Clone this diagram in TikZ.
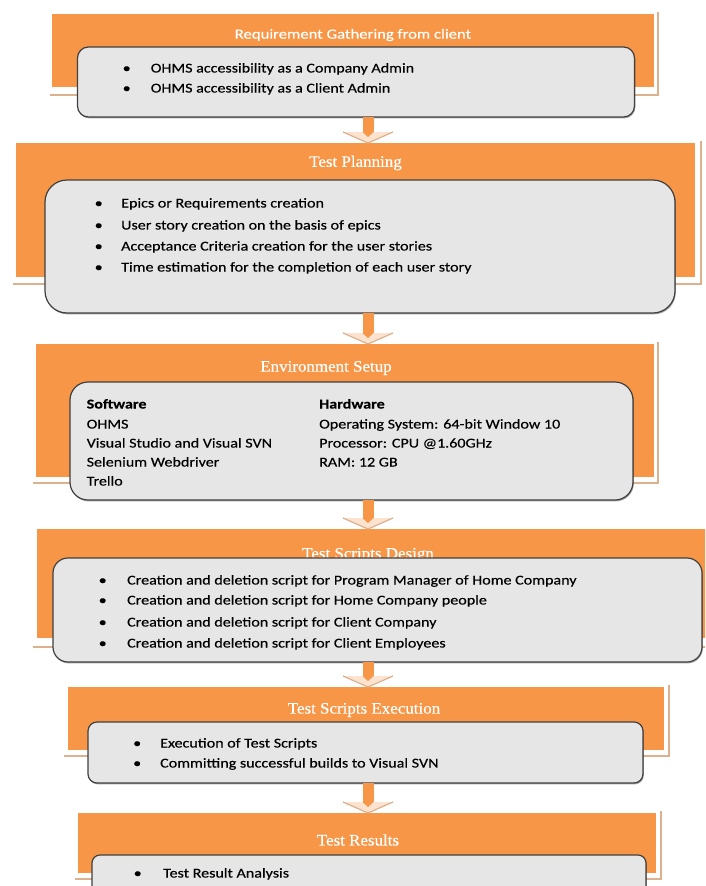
\documentclass[tikz,border=0pt]{standalone}
\usepackage{fontspec}
\setmainfont{Carlito}[FakeStretch=1.19,FakeBold=0.35]
\newfontfamily\titleserif{Liberation Serif}[FakeStretch=1.06,FakeBold=0.5]
\usetikzlibrary{fit,calc,shadows}
\definecolor{obox}{HTML}{F79646}
\definecolor{gbox}{HTML}{E6E6E6}
\definecolor{gline}{HTML}{404040}
\definecolor{tanc}{HTML}{DDB08E}
\definecolor{headfill}{HTML}{FBE3CF}
\newcommand\bitem[2]{\makebox[#1][l]{\textbullet}#2}
\tikzset{
  orangebox/.style={fill=obox, draw=none, inner sep=0pt, outer sep=0pt},
  greybox/.style={fill=gbox, draw=gline, line width=1.2pt, inner sep=0pt, outer sep=0pt,
    drop shadow={shadow xshift=0.8pt, shadow yshift=-1.4pt, opacity=0.35, fill=black}},
  tanline/.style={draw=tanc, line width=1.4pt},
  stitle/.style={text=white, font=\titleserif\fontsize{16}{18}\selectfont, inner sep=0pt},
  ctitle/.style={text=white, font=\fontsize{14}{16}\selectfont, inner sep=0pt},
  body/.style={font=\fontsize{13.5}{16}\selectfont, inner sep=0pt, anchor=base west},
  shaft/.style={fill=obox},
  headshape/.style={fill=headfill},
  headedge/.style={draw=tanc, line width=1.2pt},
}
\begin{document}
\begin{tikzpicture}[x=1pt,y=-1pt]
\useasboundingbox (0,0) rectangle (705,886);
\clip (0,0) rectangle (705,886);
\fill[white] (0,0) rectangle (705,886);

% ---------- Stage 1 ----------
\draw[tanline] (50,95) -- (658,95) -- (658,12);
\node[orangebox, fit={(52,14)(654,87)}] (o1) {};
\node[ctitle] (t1) at (353,35) {Requirement Gathering from client};
\node[greybox, rounded corners=11pt, fit={(77.5,47)(634.5,117)}] (g1) {};
\node[body] (b1a) at (122.5,72.5) {\bitem{28.1pt}{OHMS accessibility as a Company Admin}};
\node[body] (b1b) at (122.5,92.5) {\bitem{28.1pt}{OHMS accessibility as a Client Admin}};

% ---------- Stage 2 ----------
\draw[tanline] (13,284) -- (701,284) -- (701,141);
\node[orangebox, fit={(16,143)(695,277)}] (o2) {};
\node[stitle] (t2) at (355.5,163) {Test Planning};
\node[greybox, rounded corners=22pt, fit={(45,180)(675,313)}] (g2) {};
\node[body] (b2a) at (94.5,207.5) {\bitem{26.5pt}{Epics or Requirements creation}};
\node[body] (b2b) at (94.5,229.5) {\bitem{26.5pt}{User story creation on the basis of epics}};
\node[body] (b2c) at (94.5,250.5) {\bitem{26.5pt}{Acceptance Criteria creation for the user stories}};
\node[body] (b2d) at (94.5,271.5) {\bitem{26.5pt}{Time estimation for the completion of each  user story}};

% ---------- Stage 3 ----------
\draw[tanline] (33,483) -- (658,483) -- (658,342);
\node[orangebox, fit={(36,344)(654,477)}] (o3) {};
\node[stitle] (t3) at (326,368) {Environment Setup};
\node[greybox, rounded corners=18pt, fit={(70,382)(633,500)}] (g3) {};
\node[body] (s3a) at (86.5,408.5) {\textbf{Software}};
\node[body] (s3b) at (86.5,428.5) {OHMS};
\node[body] (s3c) at (86.5,447.5) {Visual Studio and Visual SVN};
\node[body] (s3d) at (86.5,466.5) {Selenium Webdriver};
\node[body] (s3e) at (86.5,485.5) {Trello};
\node[body] (h3a) at (319,408.5) {\textbf{Hardware}};
\node[body] (h3b) at (319,428.5) {Operating System: 64-bit Window 10};
\node[body] (h3c) at (319,447.5) {Processor: CPU @1.60GHz};
\node[body] (h3d) at (319,466.5) {RAM: 12 GB};

% ---------- Stage 4 ----------
\draw[tanline] (33,647) -- (712,647);
\node[orangebox, fit={(37,529)(712,638)}] (o4) {};
\node[stitle] (t4) at (368,555) {Test Scripts Design};
\node[greybox, rounded corners=15pt, fit={(53,558)(702,662)}] (g4) {};
\node[body] (b4a) at (98.5,584.5) {\bitem{28.5pt}{Creation and deletion script for Program Manager of Home Company}};
\node[body] (b4b) at (98.5,604.5) {\bitem{28.5pt}{Creation and deletion script for Home Company people}};
\node[body] (b4c) at (98.5,626.5) {\bitem{28.5pt}{Creation and deletion script for Client Company}};
\node[body] (b4d) at (98.5,647.5) {\bitem{28.5pt}{Creation and deletion script for Client Employees}};

% ---------- Stage 5 ----------
\draw[tanline] (64,756) -- (669,756) -- (669,685);
\node[orangebox, fit={(68,687)(664,750)}] (o5) {};
\node[stitle] (t5) at (364,710) {Test Scripts Execution};
\node[greybox, rounded corners=9pt, fit={(88,722)(643,783)}] (g5) {};
\node[body] (b5a) at (133,747.5) {\bitem{27pt}{Execution of Test Scripts}};
\node[body] (b5b) at (133,767.5) {\bitem{27pt}{Committing successful  builds to Visual SVN}};

% ---------- Stage 6 ----------
\draw[tanline] (75,879) -- (661,879) -- (661,811);
\node[orangebox, fit={(78,813)(656,873)}] (o6) {};
\node[stitle] (t6) at (358,840) {Test Results};
\node[greybox, rounded corners=8pt, fit={(92,855)(646,905)}] (g6) {};
\node[body] (b6a) at (133.5,877.5) {\bitem{29.5pt}{Test Result Analysis}};

% ---------- Arrows ----------
\coordinate (ax) at (368,0);
\foreach \g/\o in {g1/o2, g2/o3, g3/o4, g4/o5, g5/o6}{
  \coordinate (as) at (ax |- \g.south);
  \coordinate (ae) at (ax |- \o.north);
  \fill[shaft] ($(as)+(-5.5,0)$) rectangle ($(ae)+(5.5,-8)$);
  \fill[headshape] ($(ae)+(-25,-11)$) -- (ae) -- ($(ae)+(25,-11)$) -- cycle;
  \fill[shaft] ($(ae)+(-5.5,-11)$) -- ($(ae)+(5.5,-11)$) -- ($(ae)+(0,-6)$) -- cycle;
  \draw[headedge] ($(ae)+(-25,-11)$) -- (ae) -- ($(ae)+(25,-11)$);
}
\end{tikzpicture}
\end{document}
